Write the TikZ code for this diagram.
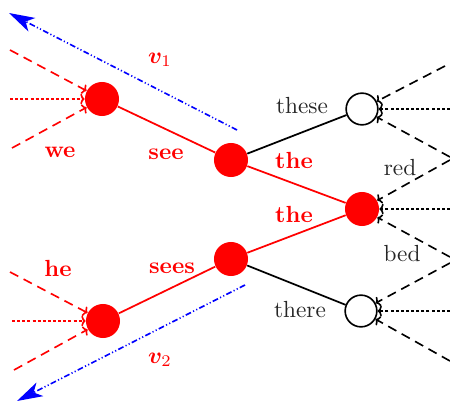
\documentclass[tikz,border=0pt]{standalone}
\usepackage{amsmath,bm}
\usetikzlibrary{arrows.meta}
\begin{document}
\begin{tikzpicture}[x=0.429pt,y=-0.429pt,
  filled/.style={circle,fill=red,minimum size=14.6pt,inner sep=0pt},
  open/.style={circle,draw=black,line width=0.7pt,minimum size=13.6pt,inner sep=0pt},
  redline/.style={red,line width=0.75pt},
  blackline/.style={black,line width=0.75pt},
  tipped/.style={line width=0.7pt,-{To[length=1.8pt,width=4.5pt]}},
  dsh/.style={tipped,dash pattern=on 4pt off 2.6pt},
  dtt/.style={tipped,dash pattern=on 1.3pt off 0.9pt},
  vec/.style={blue,line width=0.7pt,dash pattern=on 2.5pt off 1pt on 0.5pt off 1pt on 0.5pt off 1pt,-{Stealth[length=11pt,width=6.5pt,inset=3pt]}},
  redlab/.style={red,font=\bfseries},
  blklab/.style={text=black!85},
]
\useasboundingbox (0,0) rectangle (450,403);
% nodes
\node[filled] (A) at (102,99) {};
\node[filled] (B) at (231,160) {};
\node[filled] (C) at (231,259) {};
\node[filled] (D) at (103,321) {};
\node[open] (E) at (362,109) {};
\node[filled] (F) at (362,209) {};
\node[open] (G) at (361,311) {};
% free ends
\coordinate (a1) at (10,50);
\coordinate (a2) at (10,99);
\coordinate (a3) at (12,148);
\coordinate (d1) at (10,272);
\coordinate (d2) at (12,321);
\coordinate (d3) at (14,370);
\coordinate (e1) at (445,66);
\coordinate (e2) at (450,109);
\coordinate (e3) at (450,157);
\coordinate (f1) at (450,160);
\coordinate (f2) at (450,209);
\coordinate (f3) at (450,257);
\coordinate (g1) at (450,263);
\coordinate (g2) at (450,311);
\coordinate (g3) at (450,361);
\coordinate (v1s) at (237,130);
\coordinate (v1e) at (9,13);
\coordinate (v2s) at (245,285);
\coordinate (v2e) at (17,401);
% edges
\draw[redline] (A) -- (B);
\draw[redline] (B) -- (F);
\draw[redline] (C) -- (F);
\draw[redline] (D) -- (C);
\draw[blackline] (B) -- (E);
\draw[blackline] (C) -- (G);
% incoming
\draw[dsh,red] (a1) -- (A);
\draw[dtt,red] (a2) -- (A);
\draw[dsh,red] (a3) -- (A);
\draw[dsh,red] (d1) -- (D);
\draw[dtt,red] (d2) -- (D);
\draw[dsh,red] (d3) -- (D);
\draw[dsh] (e1) -- (E);
\draw[dtt] (e2) -- (E);
\draw[dsh] (e3) -- (E);
\draw[dsh] (f1) -- (F);
\draw[dtt] (f2) -- (F);
\draw[dsh] (f3) -- (F);
\draw[dsh] (g1) -- (G);
\draw[dtt] (g2) -- (G);
\draw[dsh] (g3) -- (G);
% vectors
\draw[vec] (v1s) -- (v1e);
\draw[vec] (v2s) -- (v2e);
% labels
\node[red] (lv1) at (160,60) {$\bm{v}_1$};
\node[red] (lv2) at (160,360) {$\bm{v}_2$};
\node[redlab] (lwe) at (60,152) {we};
\node[redlab] (lsee) at (166,154) {see};
\node[redlab] (lhe) at (58,268) {he};
\node[redlab] (lsees) at (172,268) {sees};
\node[redlab] (lthe1) at (294,160) {the};
\node[redlab] (lthe2) at (294,214) {the};
\node[blklab] (lthese) at (302,106) {these};
\node[blklab] (lred) at (400,168) {red};
\node[blklab] (lbed) at (402,254) {bed};
\node[blklab] (lthere) at (300,310) {there};
\end{tikzpicture}
\end{document}
